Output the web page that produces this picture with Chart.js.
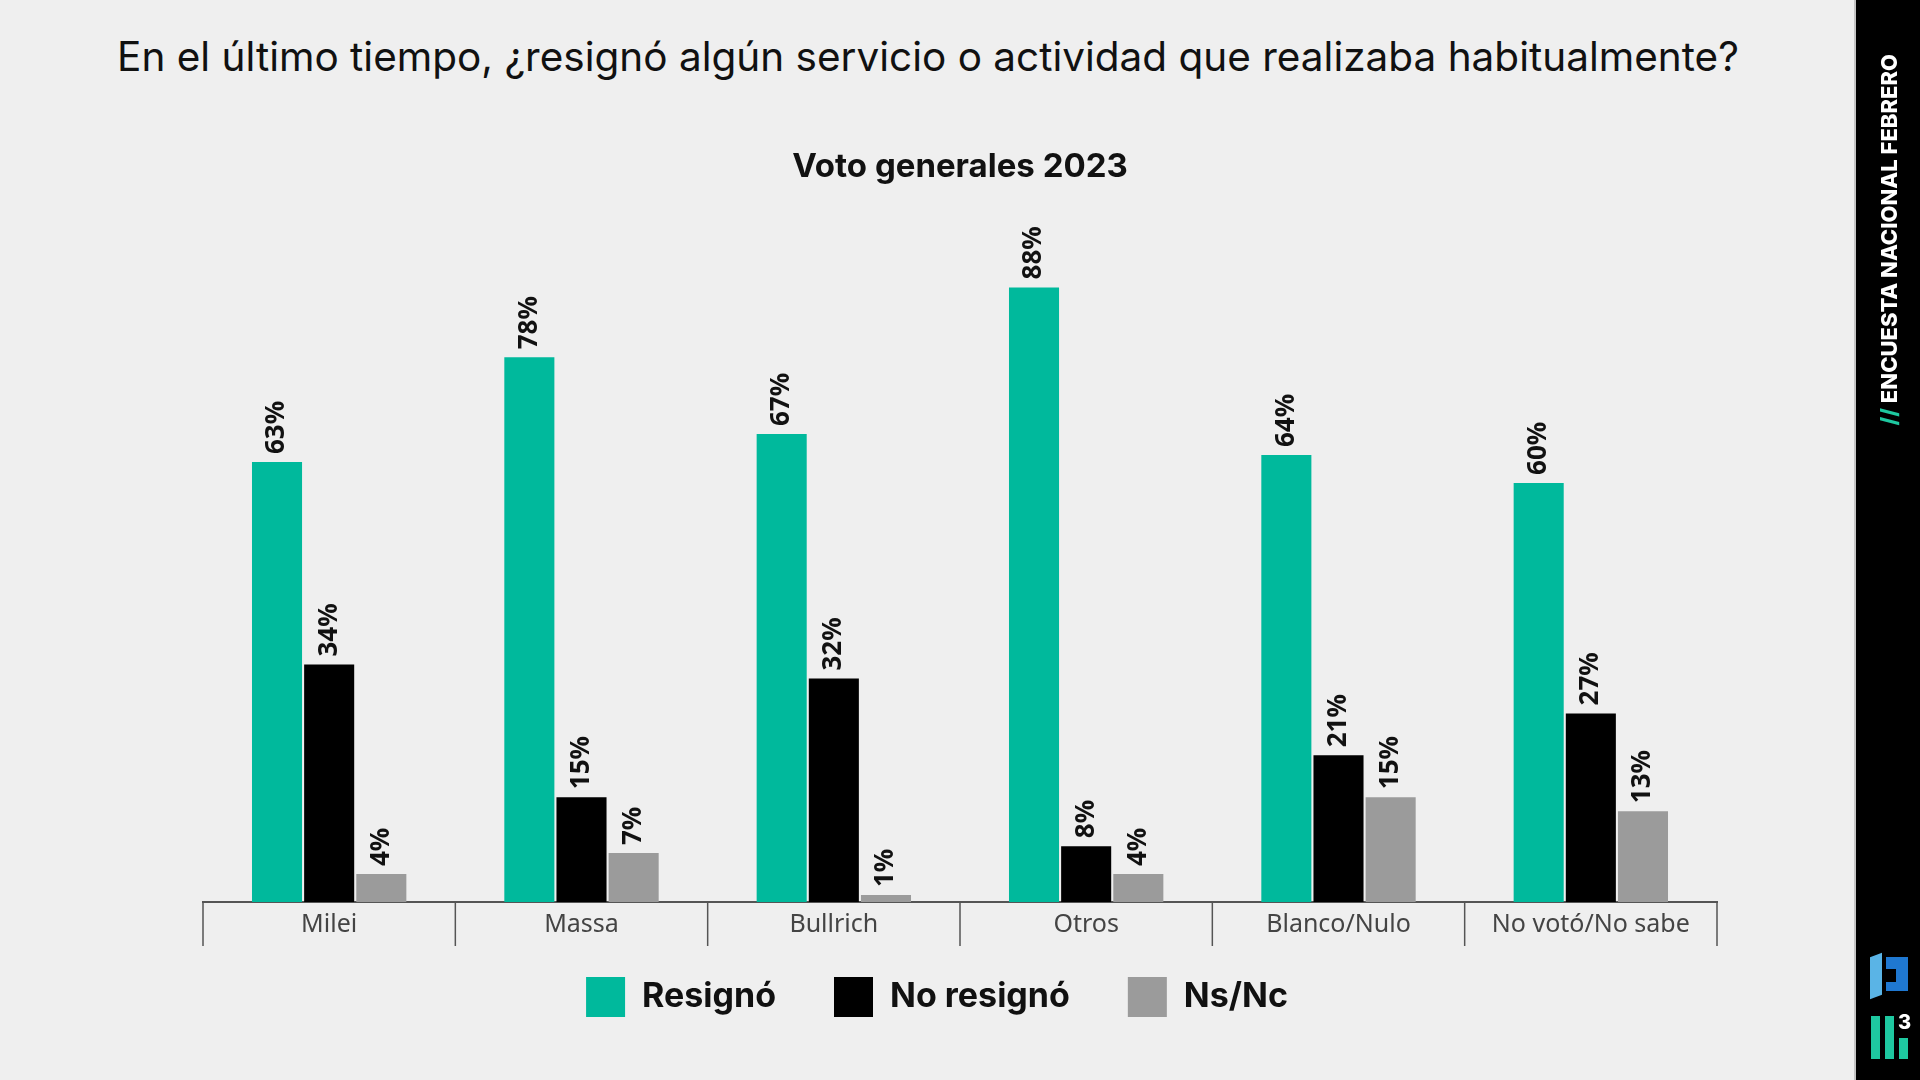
<!DOCTYPE html>
<html>
<head>
<meta charset="utf-8">
<script src="https://cdn.jsdelivr.net/npm/chart.js@4.4.1/dist/chart.umd.min.js"></script>
<style>
  html, body { margin: 0; padding: 0; }
  body { width: 1920px; height: 1080px; background: #efefef; position: relative; overflow: hidden; font-family: Inter, "Open Sans", sans-serif; }
  #title { position: absolute; left: 0; top: 32px; width: 1856px; text-align: center; font-size: 40.5px; color: #111; white-space: nowrap; }
  #wrap { position: absolute; left: 0; top: 0; width: 1856px; height: 1056px; }
  #side { position: absolute; left: 1856px; top: 0; width: 64px; height: 1080px; background: #000; box-shadow: -2px 0 0 #c4c4c4; }
  #sideText { position: absolute; left: 1876px; bottom: 654px; writing-mode: vertical-rl; transform: rotate(180deg);
    color: #fff; font-weight: 800; font-size: 22px; white-space: nowrap; }
  #sideText span { color: #1ec8a0; }
  .lg { position: absolute; }
</style>
</head>
<body>
<div id="title">En el último tiempo, ¿resignó algún servicio o actividad que realizaba habitualmente?</div>
<div id="wrap"><canvas id="myChart"></canvas></div>
<div id="side"></div>
<div id="sideText"><span>//</span> ENCUESTA NACIONAL FEBRERO</div>
<!-- logo -->
<div class="lg" style="left:1870px;top:955px;width:12px;height:42px;background:#5ab4e6;transform:skewY(-20deg);"></div>
<div class="lg" style="left:1886px;top:957px;width:22px;height:12px;background:#1f78d1;"></div>
<div class="lg" style="left:1896px;top:957px;width:12px;height:34px;background:#1f78d1;"></div>
<div class="lg" style="left:1886px;top:982px;width:12px;height:9px;background:#1f78d1;"></div>
<div class="lg" style="left:1871px;top:1016px;width:9px;height:43px;background:#1ec8a0;"></div>
<div class="lg" style="left:1885px;top:1016px;width:9px;height:43px;background:#1ec8a0;"></div>
<div class="lg" style="left:1899px;top:1038px;width:9px;height:21px;background:#1ec8a0;"></div>
<div class="lg" style="left:1898px;top:1012px;color:#fff;font-weight:800;font-size:20px;line-height:20px;">3</div>
<script>
const categories = ["Milei", "Massa", "Bullrich", "Otros", "Blanco/Nulo", "No votó/No sabe"];
const resigno = [63, 78, 67, 88, 64, 60];
const noResigno = [34, 15, 32, 8, 21, 27];
const nsnc = [4, 7, 1, 4, 15, 13];

// rotated value labels above each bar
const barLabels = {
  id: "barLabels",
  afterDatasetsDraw(chart) {
    const ctx = chart.ctx;
    ctx.save();
    ctx.font = 'bold 26px "Liberation Sans Narrow", "Noto Sans", sans-serif';
    ctx.fillStyle = "#111";
    ctx.textAlign = "left";
    ctx.textBaseline = "middle";
    chart.data.datasets.forEach((ds, i) => {
      chart.getDatasetMeta(i).data.forEach((bar, j) => {
        ctx.save();
        ctx.translate(bar.x, bar.y - 8);
        ctx.rotate(-Math.PI / 2);
        ctx.fillText(ds.data[j] + "%", 0, 0);
        ctx.restore();
      });
    });
    ctx.restore();
  },
};

// vertical separators hanging under the x axis between categories
const separators = {
  id: "separators",
  afterDraw(chart) {
    const x = chart.scales.x;
    const n = categories.length;
    const ctx = chart.ctx;
    ctx.save();
    ctx.strokeStyle = "#555";
    ctx.lineWidth = 1.5;
    for (let i = 0; i <= n; i++) {
      let px;
      if (i === 0) px = x.left;
      else if (i === n) px = x.right;
      else px = (x.getPixelForTick(i - 1) + x.getPixelForTick(i)) / 2;
      ctx.beginPath();
      ctx.moveTo(px, x.top);
      ctx.lineTo(px, x.top + 44);
      ctx.stroke();
    }
    ctx.restore();
  },
};

// nudge the legend to where it sits in the original
const legendShift = {
  id: "legendShift",
  afterLayout(chart) {
    const lg = chart.legend;
    lg.left -= 23; lg.right -= 23;
    lg.top -= 29; lg.bottom -= 29;
  },
};

var ctx = document.getElementById("myChart");
var myChart = new Chart(ctx, {
  type: "bar",
  data: {
    labels: categories,
    datasets: [
      { label: "Resignó", data: resigno, backgroundColor: "#00b99c" },
      { label: "No resignó", data: noResigno, backgroundColor: "#000000" },
      { label: "Ns/Nc", data: nsnc, backgroundColor: "#9b9b9b" },
    ],
  },
  options: {
    responsive: true,
    maintainAspectRatio: false,
    animation: false,
    categoryPercentage: 0.62,
    barPercentage: 0.96,
    layout: { padding: { left: 203, right: 139, top: 147, bottom: 0 } },
    plugins: {
      tooltip: { enabled: false },
      title: {
        display: true,
        text: "Voto generales 2023",
        color: "#111",
        font: { family: "Inter", size: 33, weight: "bold" },
        padding: { top: 0, bottom: 17 },
      },
      legend: {
        position: "bottom",
        labels: {
          boxWidth: 39,
          boxHeight: 40,
          padding: 58,
          color: "#111",
          font: { family: "Inter", size: 34, weight: "bold" },
        },
      },
    },
    scales: {
      x: {
        border: { display: true, color: "#555", width: 2 },
        grid: { display: false, drawTicks: false },
        ticks: {
          color: "#444",
          padding: 8,
          font: { family: "Noto Sans", size: 25 },
        },
      },
      y: {
        display: false,
        min: 0,
        max: 100,
      },
    },
  },
  plugins: [barLabels, separators, legendShift],
});
</script>
</body>
</html>
